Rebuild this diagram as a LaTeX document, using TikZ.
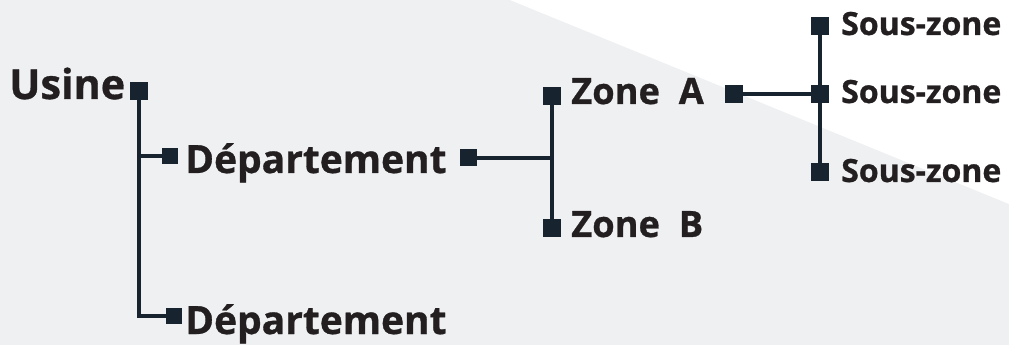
\documentclass[tikz,border=0pt]{standalone}
\usepackage{fontspec}
\setmainfont{Open Sans}[BoldFeatures={FakeBold=0.8}]
\definecolor{bggray}{HTML}{EFF0F2}
\definecolor{ink}{HTML}{231F20}
\definecolor{navy}{HTML}{17232E}
\tikzset{
  sq/.style={rectangle, fill=navy, inner sep=0pt, minimum size=13.5pt},
  sqs/.style={sq, minimum size=12pt},
  lbl/.style={anchor=base west, inner sep=0pt, text=ink, font=\bfseries},
  link/.style={draw=navy, line width=3pt}
}
\begin{document}
\begin{tikzpicture}[x=0.75pt, y=-0.75pt]
            \useasboundingbox (0,0) rectangle (1009,345);
            \fill[bggray] (0,0) rectangle (1009,345);
            \fill[white] (510,0) -- (1009,0) -- (1009,204) -- cycle;

            \node[sq] (u) at (139, 91) {};
            \node[sqs] (d1) at (170, 156) {};
            \node[sq, minimum size=12.75pt] (d1r) at (468, 158) {};
            \node[sqs] (d2) at (174, 316) {};
            \node[sq] (za) at (552, 96) {};
            \node[sq] (zb) at (552, 228) {};
            \node[sq] (zar) at (734, 94) {};
            \node[sq] (s1) at (820, 26) {};
            \node[sq] (s2) at (820, 94) {};
            \node[sq] (s3) at (820, 172) {};

            \node[lbl, font=\bfseries\fontsize{31}{36}\selectfont] (usine) at (9, 99) {Usine};
            \node[lbl, font=\bfseries\fontsize{29.2}{34}\selectfont] (dep1) at (185, 173) {Département};
            \node[lbl, font=\bfseries\fontsize{29.2}{34}\selectfont] (dep2) at (185, 334) {Département};
            \node[lbl, font=\bfseries\fontsize{27.2}{32}\selectfont] (zonea) at (571, 104) {Zone\ \ A};
            \node[lbl, font=\bfseries\fontsize{27.2}{32}\selectfont] (zoneb) at (571, 237) {Zone\ \ B};
            \node[lbl, font=\bfseries\fontsize{24}{28}\selectfont] (sz1) at (841, 35) {Sous-zone};
            \node[lbl, font=\bfseries\fontsize{24}{28}\selectfont] (sz2) at (841, 103) {Sous-zone};
            \node[lbl, font=\bfseries\fontsize{24}{28}\selectfont] (sz3) at (841, 182) {Sous-zone};

            \draw[link] (u.south) |- (d1.west);
            \draw[link] (u.south) |- (d2.west);
            \draw[link] (d1r) -- (d1r -| za);
            \draw[link] (za) -- (zb);
            \draw[link] (zar) -- (s2);
            \draw[link] (s1) -- (s3);
\end{tikzpicture}
\end{document}
